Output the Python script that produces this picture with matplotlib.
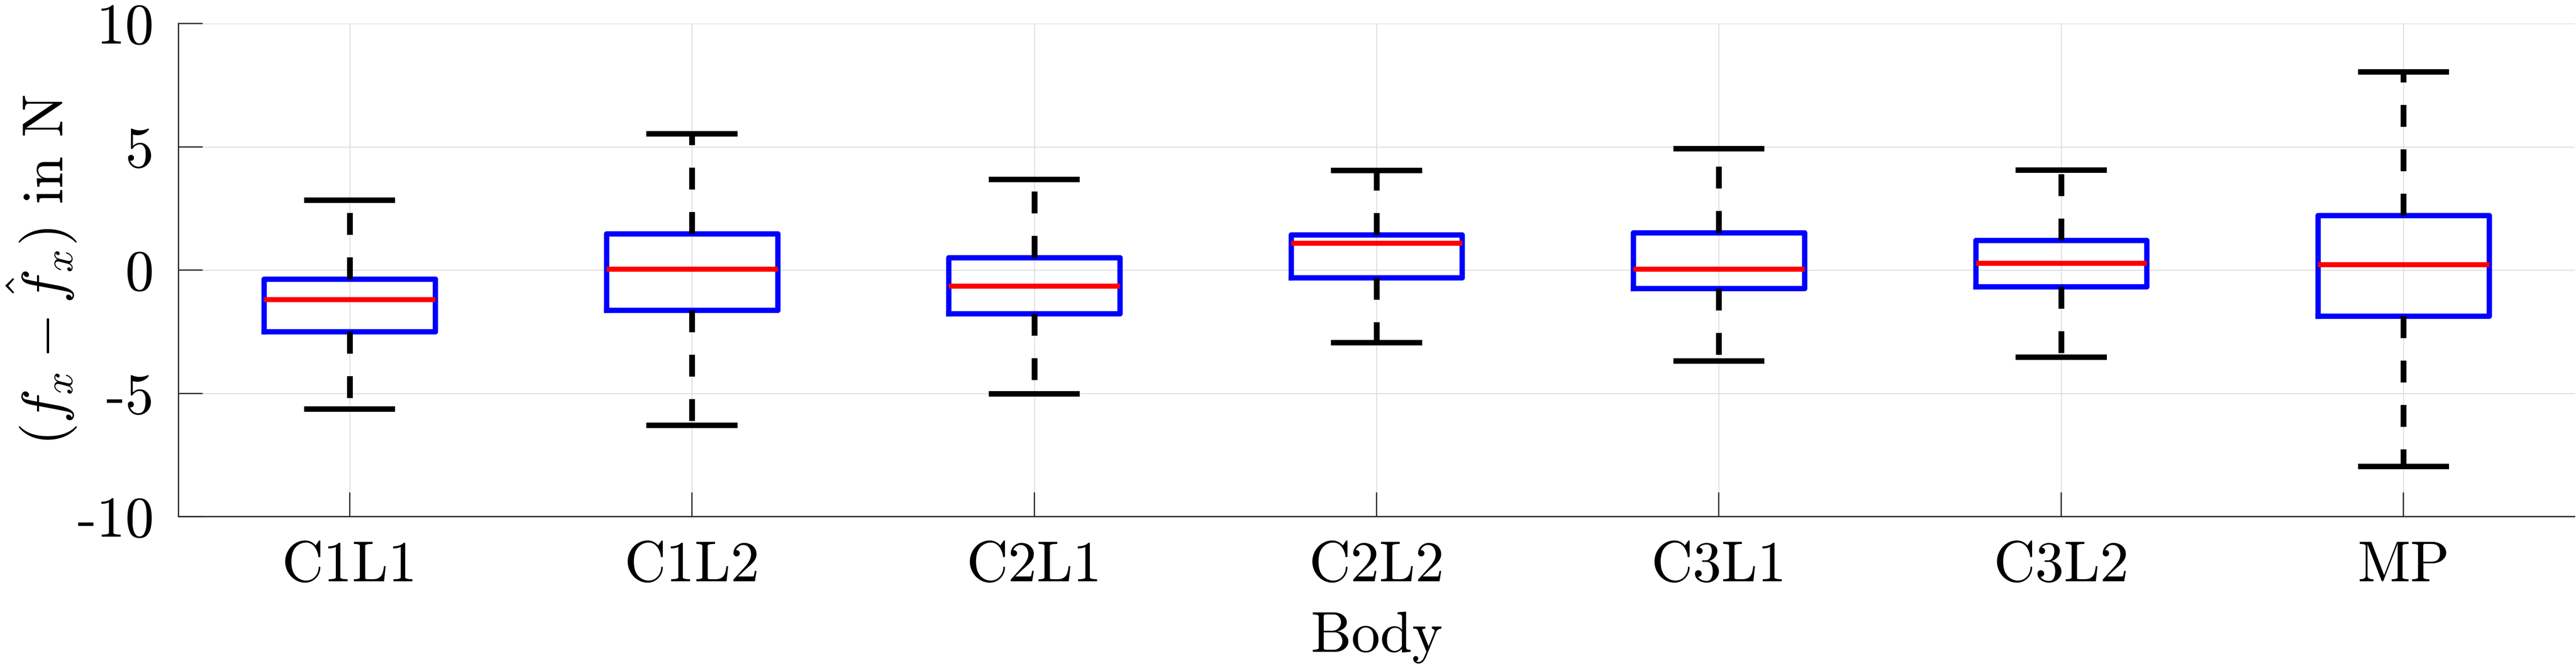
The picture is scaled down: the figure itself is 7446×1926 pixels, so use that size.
import matplotlib
matplotlib.use("Agg")
import matplotlib.pyplot as plt

# ── Werte ────────────────────────────────────────────────────────────────────
bodies = ["C1L1", "C1L2", "C2L1", "C2L2", "C3L1", "C3L2", "MP"]
whislo = [-5.64, -6.30, -5.02, -2.95, -3.69, -3.53, -7.97]
q1     = [-2.49, -1.63, -1.77, -0.31, -0.74, -0.68, -1.86]
med    = [-1.19,  0.04, -0.64,  1.09,  0.04,  0.28,  0.23]
q3     = [-0.37,  1.47,  0.50,  1.43,  1.52,  1.21,  2.21]
whishi = [ 2.83,  5.53,  3.68,  4.04,  4.92,  4.06,  8.04]

yticks      = [-10, -5, 0, 5, 10]
ytick_texts = ["-10", "-5", "0", "5", "10"]

# ── Stil ─────────────────────────────────────────────────────────────────────
plt.rcParams.update({
    "font.family": "serif",
    "font.serif": ["cmr10"],
    "mathtext.fontset": "cm",
    "axes.unicode_minus": False,
    "axes.formatter.use_mathtext": True,
    "font.size": 40,
})

W, H, DPI = 7446, 1926, 300
fig = plt.figure(figsize=(W / DPI, H / DPI), dpi=DPI)
ax = fig.add_axes([516 / W, 432 / H, (7442 - 516) / W, (1494 - 68) / H])

stats = []
for i, name in enumerate(bodies):
    stats.append({"label": name, "whislo": whislo[i], "q1": q1[i],
                  "med": med[i], "q3": q3[i], "whishi": whishi[i],
                  "fliers": []})

ax.bxp(stats, positions=range(1, len(bodies) + 1), widths=0.5,
       capwidths=0.25, showfliers=False,
       boxprops=dict(color="#0000ff", linewidth=3.7, solid_joinstyle="round"),
       medianprops=dict(color="#ff0000", linewidth=3.5),
       whiskerprops=dict(color="black", linewidth=4.0,
                         linestyle=(0, (3.8, 3.9))),
       capprops=dict(color="black", linewidth=3.8))

# ── Achsen ───────────────────────────────────────────────────────────────────
ax.set_xlim(0.5, 7.5)
ax.set_ylim(-10, 10)
ax.set_yticks(yticks)
ax.set_yticklabels(ytick_texts)
ax.set_xticks(range(1, len(bodies) + 1))
ax.set_xticklabels(bodies)

ax.grid(True, color="#dfdfdf", linewidth=0.7)
ax.set_axisbelow(True)
for side in ["top", "right"]:
    ax.spines[side].set_visible(False)
for side in ["left", "bottom"]:
    ax.spines[side].set_linewidth(0.9)
    ax.spines[side].set_color("#262626")
ax.tick_params(direction="in", length=16.8, width=0.85, color="#262626",
               labelsize=40, pad=17)

ax.set_ylabel(r"$(f_x - \hat{f}_x)$ in N", fontsize=40)
ax.yaxis.label.set_va("center")
ax.yaxis.set_label_coords((120 - 516) / (7442 - 516), 0.5)
ax.set_xlabel("Body", fontsize=40)
ax.xaxis.label.set_va("baseline")
ax.xaxis.set_label_coords(0.5, (1926 - 1885 - 432) / 1426)

fig.savefig("out.png", dpi=DPI)
